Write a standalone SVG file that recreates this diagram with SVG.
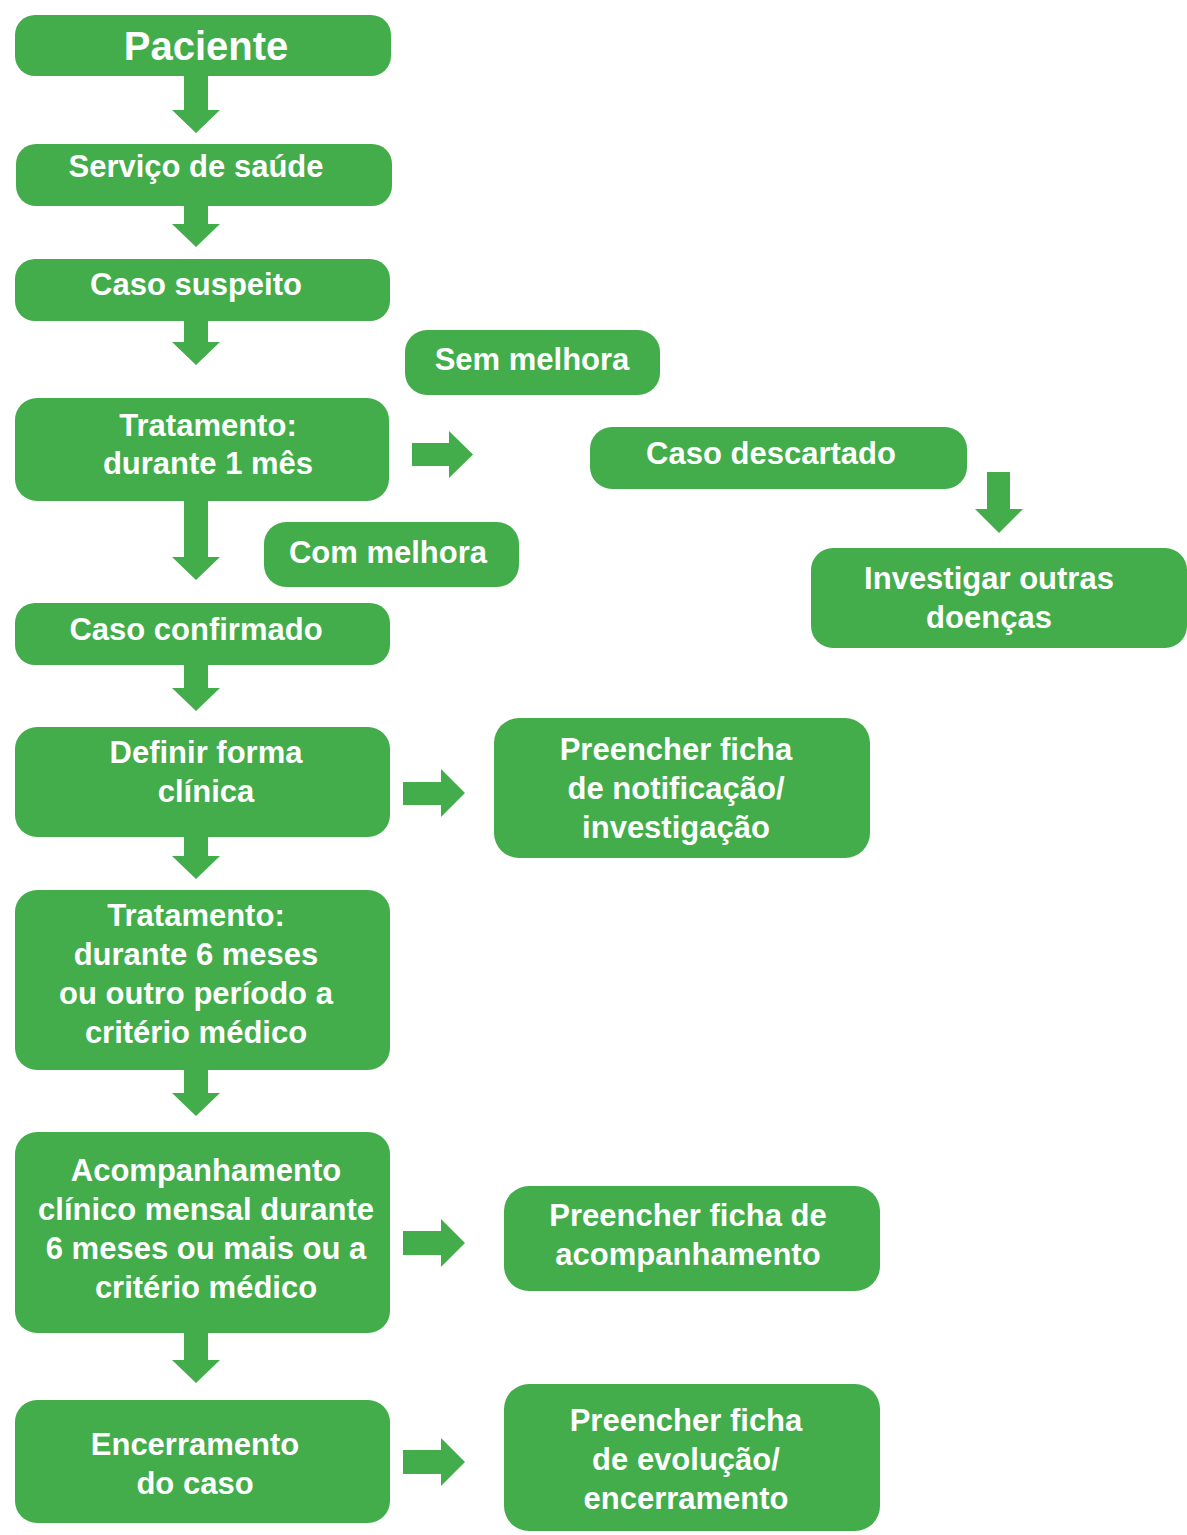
<svg xmlns="http://www.w3.org/2000/svg" width="1187" height="1535" viewBox="0 0 1187 1535">
<style>
.box{fill:#42ad4a}
.arr{fill:#42ad4a}
text{font-family:"Liberation Sans",Arial,sans-serif;font-weight:bold;font-size:31px;fill:#ffffff;text-anchor:middle}
</style>
<rect width="1187" height="1535" fill="#ffffff"/>
<g id="n-paciente"><rect class="box" x="15" y="15" width="376" height="61" rx="20"/><text x="206" y="60" style="font-size:40px">Paciente</text></g>
<g id="n-servico"><rect class="box" x="16" y="144" width="376" height="62" rx="20"/><text x="196" y="177">Serviço de saúde</text></g>
<g id="n-suspeito"><rect class="box" x="15" y="259" width="375" height="62" rx="20"/><text x="196" y="295">Caso suspeito</text></g>
<g id="n-trat1"><rect class="box" x="15" y="398" width="374" height="103" rx="22"/><text x="208" y="436">Tratamento:</text><text x="208" y="474">durante 1 mês</text></g>
<g id="n-sem"><rect class="box" x="405" y="330" width="255" height="65" rx="22"/><text x="532" y="370">Sem melhora</text></g>
<g id="n-descartado"><rect class="box" x="590" y="427" width="377" height="62" rx="22"/><text x="771" y="464">Caso descartado</text></g>
<g id="n-investigar"><rect class="box" x="811" y="548" width="376" height="100" rx="22"/><text x="989" y="589">Investigar outras</text><text x="989" y="628">doenças</text></g>
<g id="n-com"><rect class="box" x="264" y="522" width="255" height="65" rx="22"/><text x="388" y="563">Com melhora</text></g>
<g id="n-confirmado"><rect class="box" x="15" y="603" width="375" height="62" rx="20"/><text x="196" y="640">Caso confirmado</text></g>
<g id="n-definir"><rect class="box" x="15" y="727" width="375" height="110" rx="22"/><text x="206" y="763">Definir forma</text><text x="206" y="802">clínica</text></g>
<g id="n-notif"><rect class="box" x="494" y="718" width="376" height="140" rx="25"/><text x="676" y="760">Preencher ficha</text><text x="676" y="799">de notificação/</text><text x="676" y="838">investigação</text></g>
<g id="n-trat6"><rect class="box" x="15" y="890" width="375" height="180" rx="22"/><text x="196" y="926">Tratamento:</text><text x="196" y="965">durante 6 meses</text><text x="196" y="1004">ou outro período a</text><text x="196" y="1043">critério médico</text></g>
<g id="n-acomp"><rect class="box" x="15" y="1132" width="375" height="201" rx="22"/><text x="206" y="1181">Acompanhamento</text><text x="206" y="1220">clínico mensal durante</text><text x="206" y="1259">6 meses ou mais ou a</text><text x="206" y="1298">critério médico</text></g>
<g id="n-ficha-acomp"><rect class="box" x="504" y="1186" width="376" height="105" rx="25"/><text x="688" y="1226">Preencher ficha de</text><text x="688" y="1265">acompanhamento</text></g>
<g id="n-encerramento"><rect class="box" x="15" y="1400" width="375" height="123" rx="22"/><text x="195" y="1455">Encerramento</text><text x="195" y="1494">do caso</text></g>
<g id="n-ficha-evol"><rect class="box" x="504" y="1384" width="376" height="147" rx="25"/><text x="686" y="1431">Preencher ficha</text><text x="686" y="1470">de evolução/</text><text x="686" y="1509">encerramento</text></g>
<g id="connectors">
<polygon class="arr" points="184,76 208,76 208,110 220,110 196,133 172,110 184,110"/>
<polygon class="arr" points="184,206 208,206 208,224 220,224 196,247 172,224 184,224"/>
<polygon class="arr" points="184,321 208,321 208,342 220,342 196,365 172,342 184,342"/>
<polygon class="arr" points="184,501 208,501 208,557 220,557 196,580 172,557 184,557"/>
<polygon class="arr" points="184,665 208,665 208,688 220,688 196,711 172,688 184,688"/>
<polygon class="arr" points="184,837 208,837 208,856 220,856 196,879 172,856 184,856"/>
<polygon class="arr" points="184,1070 208,1070 208,1093 220,1093 196,1116 172,1093 184,1093"/>
<polygon class="arr" points="184,1333 208,1333 208,1360 220,1360 196,1383 172,1360 184,1360"/>
<polygon class="arr" points="987,472 1010,472 1010,509 1023,509 999,533 975,509 987,509"/>
<polygon class="arr" points="412,443 449,443 449,431 473,454.5 449,478 449,466 412,466"/>
<polygon class="arr" points="403,782 441,782 441,769 465,793 441,817 441,805 403,805"/>
<polygon class="arr" points="403,1231 441,1231 441,1219 465,1243 441,1267 441,1255 403,1255"/>
<polygon class="arr" points="403,1450 441,1450 441,1438 465,1462 441,1486 441,1474 403,1474"/>
</g>
</svg>
